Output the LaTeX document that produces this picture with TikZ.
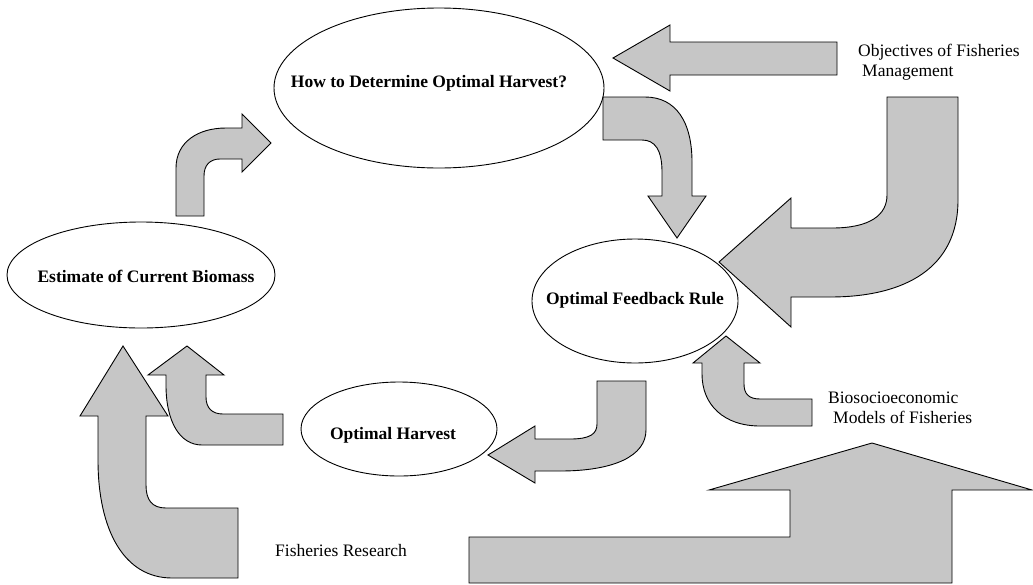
\documentclass[tikz,border=0pt]{standalone}
\usepackage{fontspec}
\setmainfont{Liberation Serif}
\usetikzlibrary{shapes.geometric}
\definecolor{arrowgray}{RGB}{198,198,198}
\tikzset{
  blockarrow/.style={fill=arrowgray, draw=black, line width=0.9pt, line join=miter},
  oval/.style={ellipse, draw=black, line width=0.9pt, inner sep=0pt},
  boldlabel/.style={font=\fontsize{17.5}{20}\selectfont\bfseries, inner sep=0pt},
  plainlabel/.style={font=\fontsize{17.5}{20.5}\selectfont, inner sep=0pt, align=left, anchor=west}
}
\begin{document}
\begin{tikzpicture}[x=1pt,y=-1pt]
\useasboundingbox (0,0) rectangle (1033,584);

% ---- block arrows ----
% Estimate -> How (small up-right)
\draw[blockarrow] (176,216) -- (176,168) .. controls (176,142) and (198,128) .. (226,128)
  -- (242,128) -- (242,114) -- (271,143) -- (242,172) -- (242,159) -- (220,159)
  .. controls (210,159) and (204,165) .. (204,176) -- (204,216) -- cycle;
% Objectives -> How (straight left)
\draw[blockarrow] (837,42) -- (670,42) -- (670,25) -- (613,58) -- (670,91) -- (670,75) -- (837,75) -- cycle;
% How -> Feedback (hook down)
\draw[blockarrow] (603,97) -- (645,97) .. controls (676,97) and (692,122) .. (692,162) -- (692,196)
  -- (706,196) -- (677,238) -- (648,196) -- (662,196) -- (662,172)
  .. controls (662,150) and (655,140) .. (642,140) -- (603,140) -- cycle;
% Objectives -> Feedback (big J)
\draw[blockarrow] (887,97) -- (958,97) -- (958,200) .. controls (958,268) and (905,297) .. (830,297)
  -- (791,297) -- (791,327) -- (719,262) -- (791,198) -- (791,228) -- (832,228)
  .. controls (870,228) and (887,215) .. (887,195) -- cycle;
% Biosocioeconomic -> Feedback (small up)
\draw[blockarrow] (726,336) -- (760,363) -- (744,363) -- (744,384) .. controls (744,394) and (749,399) .. (760,399)
  -- (812,399) -- (812,426) -- (760,426) .. controls (724,426) and (702,405) .. (702,374)
  -- (702,363) -- (693,363) -- cycle;
% Feedback -> Harvest (hook left)
\draw[blockarrow] (597,381) -- (646,381) -- (646,430) .. controls (646,456) and (614,471) .. (560,471)
  -- (535,471) -- (535,483) -- (488,455) -- (535,426) -- (535,439) -- (570,439)
  .. controls (590,439) and (597,434) .. (597,424) -- cycle;
% Big bottom-right arrow
\draw[blockarrow] (469,583) -- (469,537) -- (790,537) -- (790,490) -- (709,490) -- (872,443)
  -- (1032,490) -- (952,490) -- (952,583) -- cycle;
% Fisheries research -> Estimate (big)
\draw[blockarrow] (123,346) -- (168,416) -- (146,416) -- (146,485) .. controls (146,500) and (152,508) .. (166,508)
  -- (238,508) -- (238,578) -- (172,578) .. controls (124,578) and (98,530) .. (98,460)
  -- (98,416) -- (80,416) -- cycle;
% Harvest -> Estimate (small)
\draw[blockarrow] (187,346) -- (224,375) -- (206,375) -- (206,397) .. controls (206,408) and (212,414) .. (223,414)
  -- (283,414) -- (283,445) -- (202,445) .. controls (180,445) and (166,422) .. (166,385)
  -- (166,375) -- (148,375) -- cycle;

% ---- ellipses ----
\node[oval, minimum width=330pt, minimum height=160pt] (how) at (439,88) {};
\node[oval, minimum width=268pt, minimum height=106pt] (est) at (141,275) {};
\node[oval, minimum width=206pt, minimum height=124pt] (fb) at (635,301) {};
\node[oval, minimum width=196pt, minimum height=94pt] (harv) at (399,429) {};

\node[boldlabel] (howt) at (429,83) {How to Determine Optimal Harvest?};
\node[boldlabel] (estt) at (146,276) {Estimate of Current Biomass};
\node[boldlabel] (fbt) at (635,300) {Optimal Feedback Rule};
\node[boldlabel] (harvt) at (393,435) {Optimal Harvest};

% ---- plain labels ----
\node[plainlabel] (obj) at (858,62) {Objectives of Fisheries\\\hspace{4pt}Management};
\node[plainlabel] (bio) at (828,408) {Biosocioeconomic\\\hspace{5pt}Models of Fisheries};
\node[plainlabel] (res) at (275,551) {Fisheries Research};
\end{tikzpicture}
\end{document}
